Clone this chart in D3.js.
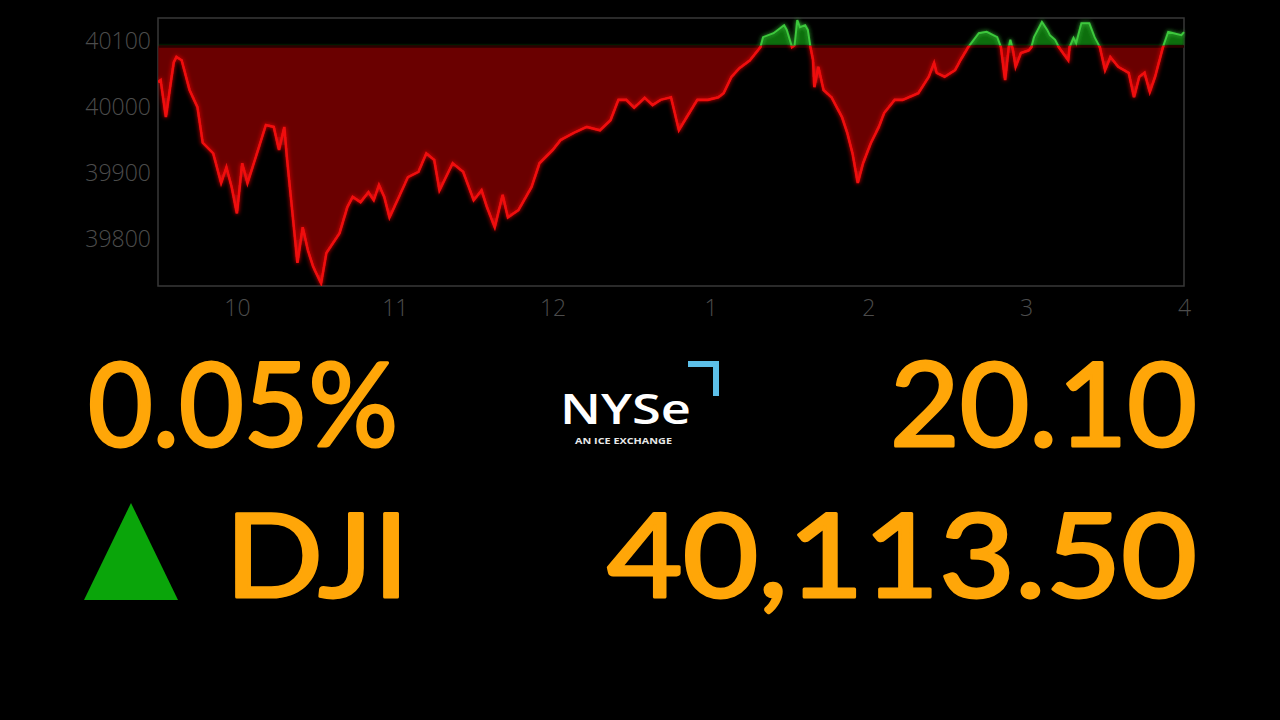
<!DOCTYPE html>
<html><head><meta charset="utf-8">
<script src="https://cdn.jsdelivr.net/npm/d3@7"></script>
<style>html,body{margin:0;padding:0;background:#000;overflow:hidden}</style>
</head><body><svg id="c" width="1280" height="720"></svg>
<script>
// minutes since 9:30 open
const minutes = [0,1,3,5,6,7,9,12,15,17,21,24,26,28,30,32,34,38,41,44,46,48,49,51,53,55,57,59,62,64,69,72,74,77,80,82,84,86,88,91,95,99,102,105,107,112,116,120,123,125,128,131,133,137,142,145,150,153,158,163,168,172,175,178,181,185,188,191,195,198,201,205,209,213,215,218,221,225,229,230,234,238,239,241,242,243,244,246,247,248,249,249.5,251,253,256,260,262,264,266,268,271,274,276,280,283,289,293,295,296,299,303,305,308,312,315,319,320.4,322,323.4,324,325,326,328,331,332,333,336,338,339,341,342.4,344,346,346.5,348,349,351,354,356,358,360,362,365,369,371,373,375,377,379,382,384,386,389,390];
const values = [40038,40041,39985,40041,40068,40076,40071,40026,40000,39946,39930,39885,39909,39879,39839,39915,39885,39935,39973,39970,39935,39970,39924,39844,39764,39818,39783,39758,39733,39779,39809,39849,39864,39856,39871,39859,39882,39864,39833,39859,39894,39902,39930,39920,39874,39915,39902,39859,39874,39849,39818,39867,39833,39844,39879,39915,39935,39950,39961,39970,39965,39980,40011,40011,39999,40014,40003,40011,40015,39965,39985,40011,40011,40015,40021,40046,40059,40071,40091,40106,40112,40124,40117,40091,40094,40132,40121,40124,40117,40091,40071,40030,40061,40026,40015,39985,39961,39930,39885,39915,39946,39970,39991,40011,40011,40021,40046,40067,40052,40046,40056,40071,40091,40112,40114,40106,40091,40041,40091,40102,40086,40061,40082,40086,40091,40106,40129,40117,40109,40102,40091,40082,40071,40091,40105,40097,40127,40127,40106,40091,40056,40076,40061,40052,40015,40046,40052,40023,40046,40091,40114,40112,40109,40113.5];
const prevClose = 40093.40;
const lastPrice = "40,113.50";
const netChange = "20.10";
const pctChange = "0.05%";
const symbol = "DJI";
const yTicks = [39800,39900,40000,40100];
const xTickMinutes = [30,90,150,210,270,330,390];
const xTickLabels = ["10","11","12","1","2","3","4"];

const data = minutes.map((m,i)=>({m, v: values[i]}));
const svg = d3.select("#c");
const L=158,R=1184,T=18,B=286;
const x = d3.scaleLinear().domain([0,390]).range([L,R]);
const y = d3.scaleLinear().domain([39729,40135]).range([B,T]);
const y0 = y(prevClose);

const defs = svg.append("defs");
const glow = defs.append("filter").attr("id","glow").attr("x","-10%").attr("y","-10%").attr("width","120%").attr("height","120%");
glow.append("feGaussianBlur").attr("stdDeviation",2).attr("result","b");
const fm = glow.append("feMerge");
fm.append("feMergeNode").attr("in","b");
fm.append("feMergeNode").attr("in","SourceGraphic");
const soft = defs.append("filter").attr("id","soft");
soft.append("feGaussianBlur").attr("stdDeviation",0.8);

defs.append("clipPath").attr("id","above").append("rect").attr("x",L).attr("y",T-10).attr("width",R-L+2).attr("height",y0-T+10);
defs.append("clipPath").attr("id","below").append("rect").attr("x",L).attr("y",y0).attr("width",R-L+2).attr("height",B-y0);

// frame
svg.append("rect").attr("x",L).attr("y",T).attr("width",R-L).attr("height",B-T)
  .attr("fill","none").attr("stroke","#383838").attr("stroke-width",1.5);

const area = d3.area().x(d=>x(d.m)).y0(y0).y1(d=>y(d.v)).curve(d3.curveLinear);
const line = d3.line().x(d=>x(d.m)).y(d=>y(d.v)).curve(d3.curveLinear);

const g = svg.append("g");
g.append("path").datum(data).attr("d",area).attr("fill","#6a0000").attr("clip-path","url(#below)").attr("filter","url(#soft)");
g.append("path").datum(data).attr("d",area).attr("fill","#0c6e0c").attr("clip-path","url(#above)").attr("filter","url(#soft)");
g.append("line").attr("x1",L+1).attr("x2",R).attr("y1",y0+1).attr("y2",y0+1).attr("stroke","#2a0000").attr("stroke-width",2.5);
g.append("g").attr("clip-path","url(#below)").append("path").datum(data).attr("d",line)
  .attr("fill","none").attr("stroke","#f01010").attr("stroke-width",2.6).attr("filter","url(#glow)");
g.append("g").attr("clip-path","url(#above)").append("path").datum(data).attr("d",line)
  .attr("fill","none").attr("stroke","#3cc83c").attr("stroke-width",2).attr("filter","url(#glow)");

// axes
const yAxis = svg.append("g").attr("transform",`translate(${L-4},0)`)
  .call(d3.axisLeft(y).tickValues(yTicks).tickSize(0).tickFormat(d3.format("d")));
yAxis.select(".domain").remove();
yAxis.selectAll("text").attr("fill","#4c4c4c").attr("font-family","Open Sans, sans-serif").attr("font-weight",300).attr("font-size",23);

const xAxis = svg.append("g").attr("transform",`translate(0,${B+6})`)
  .call(d3.axisBottom(x).tickValues(xTickMinutes).tickSize(0).tickFormat((d,i)=>xTickLabels[i]));
xAxis.select(".domain").remove();
xAxis.selectAll("text").attr("fill","#4c4c4c").attr("font-family","Open Sans, sans-serif").attr("font-weight",300).attr("font-size",23).attr("dy","0.9em");

// big numbers
const orange = "#ffa608";
function big(txt, xp, yp, anchor, w){
  svg.append("text").attr("x",xp).attr("y",yp).attr("text-anchor",anchor)
    .attr("font-family","Lato, Open Sans, sans-serif").attr("font-size",117).attr("font-weight",400)
    .attr("fill",orange).attr("stroke",orange).attr("stroke-width",3).attr("stroke-linejoin","round")
    .attr("textLength",w).attr("lengthAdjust","spacingAndGlyphs").text(txt);
}
big(pctChange, 88, 446, "start", 310);
big(netChange, 1197, 446, "end", 307);
big(symbol, 225, 597, "start", 184);
big(lastPrice, 1197, 597, "end", 590);

// triangle
svg.append("path").attr("d",d3.line()([[84,600],[178,600],[131,503]])+"Z").attr("fill","#0aa50a");

// NYSE logo
svg.append("text").attr("x",560).attr("y",424).attr("font-family","Open Sans, sans-serif").attr("font-weight",600)
  .attr("font-size",42).attr("fill","#ffffff").attr("textLength",131).attr("lengthAdjust","spacingAndGlyphs").text("NYSe");
svg.append("text").attr("x",575).attr("y",444).attr("font-family","Open Sans, sans-serif").attr("font-weight",700)
  .attr("font-size",8.5).attr("fill","#e8e8e8").attr("textLength",97).attr("lengthAdjust","spacingAndGlyphs").text("AN ICE EXCHANGE");
svg.append("path").attr("d","M688,361 L719,361 L719,396 L713,396 L713,367 L688,367 Z").attr("fill","#5cbfe8");
</script></body></html>
